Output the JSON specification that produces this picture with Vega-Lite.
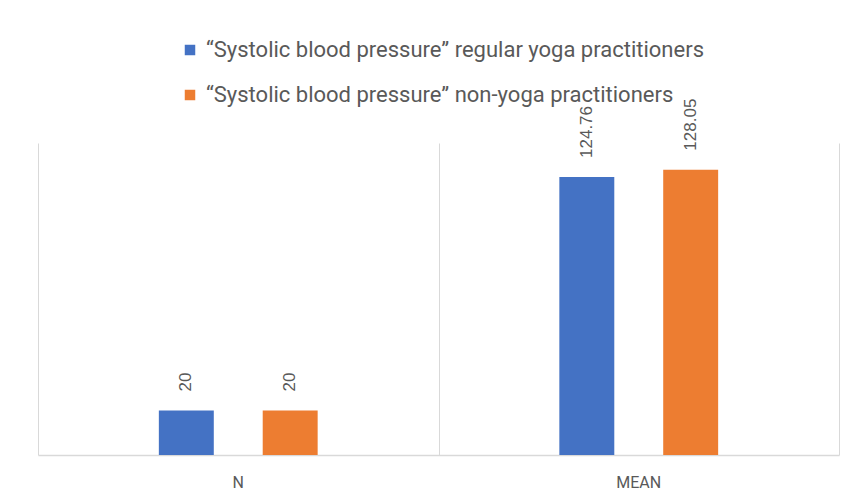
{
  "$schema": "https://vega.github.io/schema/vega-lite/v6.json",
  "width": 801,
  "height": 312,
  "autosize": {"type": "none"},
  "padding": {"left": 38, "top": 143, "right": 17, "bottom": 49},
  "background": "white",
  "config": {"view": {"stroke": null}, "font": "Liberation Sans"},
  "data": {
    "values": [
      {"stat": "N", "group": "“Systolic blood pressure” regular yoga practitioners", "value": 20},
      {"stat": "N", "group": "“Systolic blood pressure” non-yoga practitioners", "value": 20},
      {"stat": "MEAN", "group": "“Systolic blood pressure” regular yoga practitioners", "value": 124.76},
      {"stat": "MEAN", "group": "“Systolic blood pressure” non-yoga practitioners", "value": 128.05}
    ]
  },
  "resolve": {"scale": {"x": "independent"}, "axis": {"x": "independent"}},
  "layer": [
    {
      "mark": {"type": "point", "opacity": 0},
      "encoding": {
        "x": {
          "field": "stat", "type": "nominal", "sort": ["N", "MEAN"],
          "scale": {"paddingInner": 0, "paddingOuter": 0},
          "axis": {
            "orient": "bottom", "title": null, "grid": true, "gridColor": "#d9d9d9", "gridWidth": 1,
            "tickBand": "extent", "ticks": false, "domain": false, "labels": false
          }
        }
      }
    },
    {
      "encoding": {
        "x": {
          "field": "stat", "type": "nominal", "sort": ["N", "MEAN"],
          "scale": {"paddingInner": 0.0848, "paddingOuter": 0.0424},
          "axis": {
            "orient": "bottom", "title": null, "labelAngle": 0, "grid": false,
            "ticks": false, "domainColor": "#d9d9d9", "domainWidth": 1.5,
            "labelPadding": 19, "labelColor": "#595959", "labelFontSize": 16,
            "labelFont": "Roboto"
          }
        },
        "xOffset": {
          "field": "group", "type": "nominal",
          "sort": ["“Systolic blood pressure” regular yoga practitioners", "“Systolic blood pressure” non-yoga practitioners"],
          "scale": {"paddingInner": 0.471, "paddingOuter": 1}
        },
        "y": {
          "field": "value", "type": "quantitative",
          "scale": {"domain": [0, 140]},
          "axis": null
        }
      },
      "layer": [
        {
          "mark": {"type": "bar"},
          "encoding": {
            "color": {
              "field": "group", "type": "nominal",
              "sort": ["“Systolic blood pressure” regular yoga practitioners", "“Systolic blood pressure” non-yoga practitioners"],
              "scale": {"range": ["#4472C4", "#ED7D31"]},
              "legend": {
                "title": null, "orient": "none", "legendX": 141, "legendY": -104,
                "direction": "vertical", "symbolType": "square", "symbolSize": 110,
                "symbolStrokeWidth": 0, "labelFontSize": 22, "labelColor": "#595959",
                "labelFont": "Roboto", "rowPadding": 23, "labelOffset": 5,
                "labelLimit": 700
              }
            }
          }
        },
        {
          "mark": {"type": "text", "angle": 270, "align": "left", "baseline": "middle", "dx": 19, "fontSize": 17, "color": "#595959"},
          "encoding": {
            "text": {"field": "value", "type": "quantitative", "format": ".2~f"}
          }
        }
      ]
    }
  ]
}
